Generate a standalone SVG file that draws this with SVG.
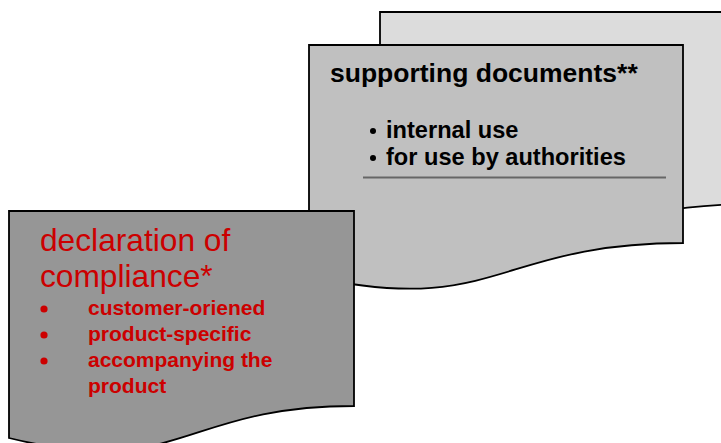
<svg xmlns="http://www.w3.org/2000/svg" width="721" height="443" viewBox="0 0 721 443">
<style>
.doc{stroke:#000;stroke-width:1.8;stroke-linejoin:miter}
.hd{font-family:"Liberation Sans",Arial,sans-serif;font-weight:bold;fill:#000}
.red{font-family:"Liberation Sans",Arial,sans-serif;fill:#cc0000}
.redb{font-family:"Liberation Sans",Arial,sans-serif;font-weight:bold;fill:#cc0000;font-size:21px}
</style>
<rect width="721" height="443" fill="#fff"/>
<g id="back-doc">
<path class="doc" fill="#dcdcdc" d="M380,12 H754 V204 C567,204 567,277 380,235 Z"/>
</g>
<g id="supporting-documents">
<path class="doc" fill="#c0c0c0" d="M309,45 H683 V243 C496,243 496,318 309,276 Z"/>
<text class="hd" x="330" y="82" font-size="26.5">supporting documents**</text>
<circle cx="373" cy="131" r="3" fill="#000"/>
<circle cx="373" cy="158" r="3" fill="#000"/>
<text class="hd" x="386" y="138" font-size="23.6">internal use</text>
<text class="hd" x="386" y="165" font-size="23.6">for use by authorities</text>
<line x1="363" y1="177.5" x2="666" y2="177.5" stroke="#666" stroke-width="2"/>
</g>
<g id="declaration-of-compliance">
<path class="doc" fill="#969696" d="M9,211 H354 V406 C181.5,406 181.5,480 9,438 Z"/>
<text class="red" x="40" y="251" font-size="31.7">declaration of</text>
<text class="red" x="40" y="287" font-size="31.7">compliance*</text>
<circle cx="44" cy="309" r="3.6" fill="#cc0000"/>
<circle cx="44" cy="335" r="3.6" fill="#cc0000"/>
<circle cx="44" cy="361" r="3.6" fill="#cc0000"/>
<text class="redb" x="88" y="315">customer-oriened</text>
<text class="redb" x="88" y="341">product-specific</text>
<text class="redb" x="88" y="367">accompanying the</text>
<text class="redb" x="88" y="393">product</text>
</g>
</svg>
